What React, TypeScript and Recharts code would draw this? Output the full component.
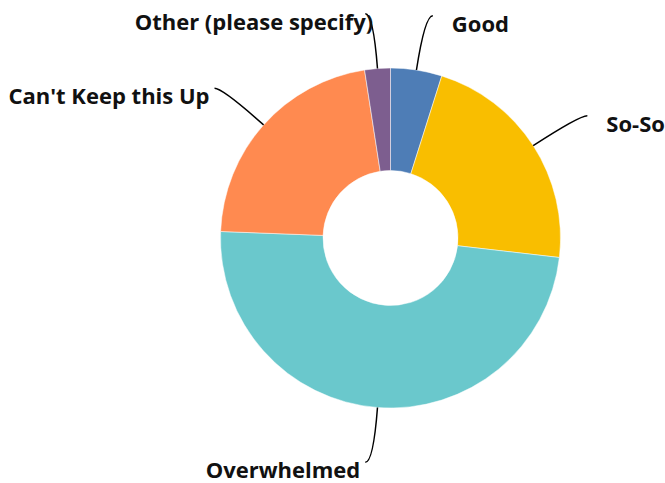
import React from "react";
import { PieChart, Pie, Cell } from "recharts";

const categories = ["Good", "So-So", "Overwhelmed", "Can't Keep this Up", "Other (please specify)"];
const responses = [2, 9, 20, 9, 1];
const colors = ["#4E7DB6", "#F9BE00", "#6AC8CC", "#FF8A50", "#7D5E8F"];

const data = categories.map((name, i) => ({ name, value: responses[i] }));

const RAD = Math.PI / 180;

const renderLabel = (props: any) => {
  const { cx, cy, midAngle, outerRadius, name } = props;
  const c = Math.cos(-midAngle * RAD);
  const s = Math.sin(-midAngle * RAD);
  const right = c >= 0;
  const x0 = cx + outerRadius * c;
  const y0 = cy + outerRadius * s;
  const r2 = outerRadius + 55;
  const xc = cx + r2 * c;
  const yc = cy + r2 * s;
  const x3 = xc + (right ? 8 : -8);
  const y3 = yc;
  const tx = right ? xc + 27 : s < -0.95 ? xc : xc - 13;
  const ty = yc + 7;
  return (
    <g>
      <path d={`M${x0},${y0} Q${xc},${yc} ${x3},${y3}`} stroke="#000" strokeWidth={1.5} fill="none" />
      <text
        x={tx}
        y={ty}
        textAnchor={right ? "start" : "end"}
        dominantBaseline="central"
        fill="#111"
        style={{ fontFamily: "'Open Sans', sans-serif", fontWeight: 700, fontSize: 22 }}
      >
        {name}
      </text>
    </g>
  );
};

export default function App() {
  return (
    <div style={{ position: "absolute", left: 0, top: 0, width: 665, height: 483, background: "#fff" }}>
      <PieChart width={665} height={483} margin={{ top: 0, right: 0, bottom: 0, left: 0 }}>
        <Pie
          data={data}
          dataKey="value"
          nameKey="name"
          cx={390.5}
          cy={238}
          innerRadius={67.5}
          outerRadius={170}
          startAngle={90}
          endAngle={-270}
          stroke="#fff"
          strokeWidth={0.5}
          label={renderLabel}
          labelLine={false}
          isAnimationActive={false}
        >
          {data.map((d, i) => (
            <Cell key={d.name} fill={colors[i]} />
          ))}
        </Pie>
      </PieChart>
    </div>
  );
}
